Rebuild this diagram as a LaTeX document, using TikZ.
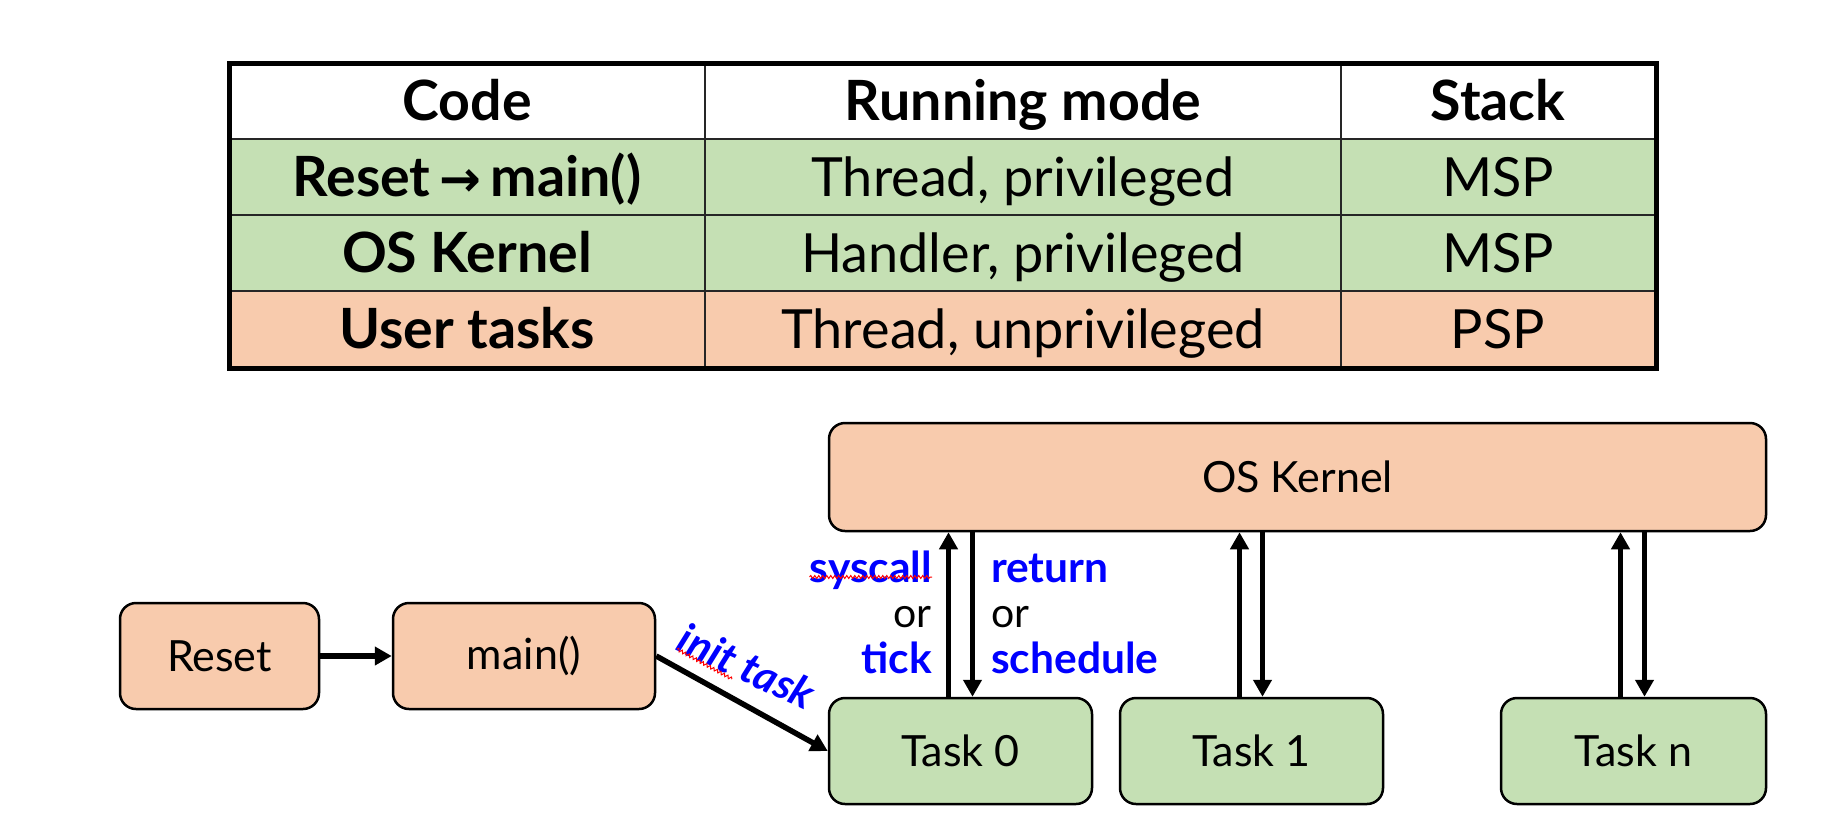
\documentclass[tikz,border=0pt]{standalone}
\usepackage{fontspec}
\setmainfont{Lato}
\usetikzlibrary{arrows.meta,decorations.pathmorphing,calc}
\definecolor{grn}{HTML}{C5E0B4}
\definecolor{org}{HTML}{F8CBAD}
\definecolor{lblue}{HTML}{0000FF}
\begin{document}
\begin{tikzpicture}[x=1pt,y=-1pt,
  box/.style={draw=black, line width=2.5pt, rounded corners=16pt, inner sep=0pt,
    font=\fontsize{43}{50}\selectfont},
  obox/.style={box, fill=org},
  gbox/.style={box, fill=grn},
  arr/.style={line width=5.5pt, -{Triangle[length=17pt,width=18pt]}},
  lbl/.style={text=lblue, font=\fontsize{42.5}{48}\selectfont\bfseries, inner sep=0pt},
  orlbl/.style={text=black, font=\fontsize{41}{46}\selectfont, inner sep=0pt},
  thead/.style={font=\fontsize{55.5}{62}\selectfont\bfseries, inner sep=0pt, anchor=base},
  tcell/.style={font=\fontsize{54}{60}\selectfont, inner sep=0pt, anchor=base},
  squig/.style={draw=red, line width=1pt, decorate, decoration={snake, amplitude=1.5pt, segment length=4pt}},
  gridline/.style={draw=black!85, line width=2.5pt}
]
\useasboundingbox (0,0) rectangle (1825,823);
% ---- table ----
\fill[white] (229,63) rectangle (1656,139);
\fill[grn] (229,139) rectangle (1656,291);
\fill[org] (229,291) rectangle (1656,368);
\draw[gridline] (229,139) -- (1656,139);
\draw[gridline] (229,215) -- (1656,215);
\draw[gridline] (229,291) -- (1656,291);
\draw[gridline] (705,63) -- (705,368);
\draw[gridline] (1341,63) -- (1341,368);
\draw[line width=5pt] (229,63) rectangle (1656,368);

\node[thead] (h1) at (467,120) {Code};
\node[thead] (h2) at (1023,120) {Running mode};
\node[thead] (h3) at (1498,120) {Stack};
\node[thead] (r1c1) at (467,196) {Reset\,{\fontspec{DejaVu Sans}\fontsize{50}{56}\selectfont →}\,main()};
\node[tcell] (r1c2) at (1023,196) {Thread, privileged};
\node[tcell] (r1c3) at (1498,196) {MSP};
\node[thead] (r2c1) at (467,272) {OS Kernel};
\node[tcell] (r2c2) at (1023,272) {Handler, privileged};
\node[tcell] (r2c3) at (1498,272) {MSP};
\node[thead] (r3c1) at (467,348) {User tasks};
\node[tcell] (r3c2) at (1023,348) {Thread, unprivileged};
\node[tcell] (r3c3) at (1498,348) {PSP};

% ---- diagram ----
\node[obox, minimum width=199pt, minimum height=106pt] (reset) at (219.5,656) {Reset};
\node[obox, minimum width=262pt, minimum height=106pt] (main) at (524,656) {main()};
\node[obox, minimum width=937pt, minimum height=108pt] (kernel) at (1297.5,477) {OS Kernel};
\node[gbox, minimum width=263pt, minimum height=106pt] (task0) at (960.5,751) {\raisebox{-2pt}{Task 0}};
\node[gbox, minimum width=263pt, minimum height=106pt] (task1) at (1251.5,751) {\raisebox{-2pt}{Task 1}};
\node[gbox, minimum width=265pt, minimum height=106pt] (taskn) at (1633.5,751) {\raisebox{-2pt}{Task n}};

\draw[arr] (reset.east) -- (main.west);
\draw[arr] (main.east) -- (task0.west);
\node[lbl, font=\fontsize{42.5}{48}\selectfont\bfseries\itshape, rotate=-25] (init) at (747,666) {init task};

\foreach \t/\a/\b in {task0/-12/12, task1/-12/11, taskn/-13/11}{
  \draw[arr] ([xshift=\a pt]\t.north) -- ([xshift=\a pt]\t.north |- kernel.south);
  \draw[arr] ([xshift=\b pt]\t.north |- kernel.south) -- ([xshift=\b pt]\t.north);
}

\node[lbl, anchor=base east] (sys) at (932,582) {syscall};
\node[orlbl, anchor=base east] (or1) at (932,627) {or};
\node[lbl, anchor=base east] (tick) at (932,673) {tick};
\node[lbl, anchor=base west] (ret) at (991,582) {return};
\node[orlbl, anchor=base west] (or2) at (991,627) {or};
\node[lbl, anchor=base west] (sch) at (991,673) {schedule};

\path[squig] ([yshift=5pt]sys.base west) -- ([yshift=5pt]sys.base east);
\path[squig] (677,649) -- (732,679);
\end{tikzpicture}
\end{document}
